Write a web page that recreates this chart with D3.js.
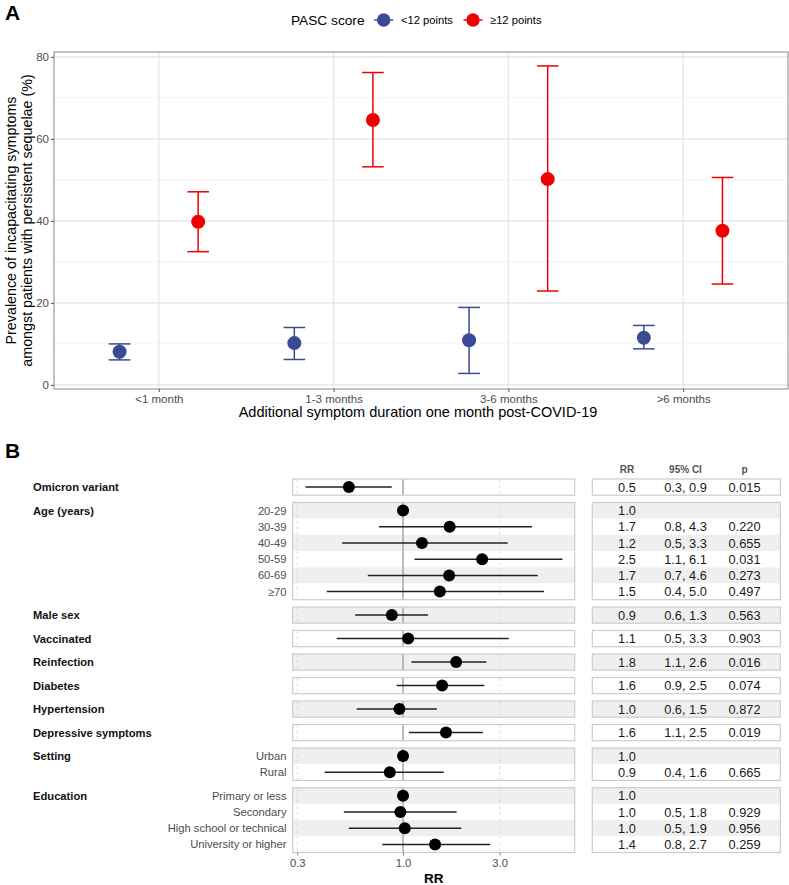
<!DOCTYPE html>
<html>
<head>
<meta charset="utf-8">
<script src="https://cdn.jsdelivr.net/npm/d3@7"></script>
<style>
  body { margin: 0; background: #fff; }
  svg { font-family: "Liberation Sans", Arial, Helvetica, sans-serif; }
</style>
</head>
<body>
<script>
// ---- panel A data ----
var durations = ["<1 month", "1-3 months", "3-6 months", ">6 months"];
var scoreGroups = ["<12 points", "≥12 points"];
var lowEst = [8.1, 10.2, 10.9, 11.5];
var lowLo  = [6.1, 6.2, 2.8, 8.8];
var lowHi  = [10.0, 14.0, 18.9, 14.5];
var highEst = [39.8, 64.6, 50.2, 37.6];
var highLo  = [32.5, 53.2, 22.9, 24.6];
var highHi  = [47.1, 76.2, 77.8, 50.6];
var yTicks = [0, 20, 40, 60, 80];

// ---- panel B data ----
var groupLabels = ["Omicron variant", "Age (years)", "Male sex", "Vaccinated", "Reinfection",
  "Diabetes", "Hypertension", "Depressive symptoms", "Setting", "Education"];
var rowGroup = [0, 1, 1, 1, 1, 1, 1, 2, 3, 4, 5, 6, 7, 8, 8, 9, 9, 9, 9];
var rowLabels = ["", "20-29", "30-39", "40-49", "50-59", "60-69", "≥70", "", "", "", "", "", "",
  "Urban", "Rural", "Primary or less", "Secondary", "High school or technical", "University or higher"];
var rrEst = [0.54, 1.0, 1.70, 1.24, 2.46, 1.69, 1.52, 0.88, 1.06, 1.83, 1.56, 0.96, 1.63, 1.0, 0.86, 1.0, 0.97, 1.02, 1.44];
var rrLo  = [0.33, null, 0.76, 0.50, 1.14, 0.67, 0.42, 0.58, 0.47, 1.10, 0.93, 0.59, 1.07, null, 0.41, null, 0.51, 0.54, 0.79];
var rrHi  = [0.88, null, 4.34, 3.29, 6.13, 4.63, 4.97, 1.33, 3.33, 2.58, 2.52, 1.47, 2.48, null, 1.59, null, 1.84, 1.94, 2.70];
var pValues = ["0.015", "", "0.220", "0.655", "0.031", "0.273", "0.497", "0.563", "0.903", "0.016",
  "0.074", "0.872", "0.019", "", "0.665", "", "0.929", "0.956", "0.259"];
var rrTicks = [0.3, 1.0, 3.0];

var colors = ["#3B4A94", "#EE0000"];

var svg = d3.select("body").append("svg").attr("width", 789).attr("height", 885);

// ================= Panel A =================
var A = { left: 54, right: 788, top: 52, bottom: 389 };
var x = d3.scalePoint().domain(durations).range([A.left, A.right]).padding(0.6);
var y = d3.scaleLinear().domain([-1, 81.2]).range([A.bottom, A.top]);
var dodge = 39.3;

svg.append("text").attr("x", 5).attr("y", 20).attr("font-size", 21).attr("font-weight", "bold").text("A");

var gA = svg.append("g");
// grid
gA.selectAll(".minor").data([10, 30, 50, 70]).enter().append("line")
  .attr("x1", A.left).attr("x2", A.right).attr("y1", y).attr("y2", y)
  .attr("stroke", "#F0F0F0").attr("stroke-width", 0.8);
gA.selectAll(".major").data(yTicks).enter().append("line")
  .attr("x1", A.left).attr("x2", A.right).attr("y1", y).attr("y2", y)
  .attr("stroke", "#E3E3E3").attr("stroke-width", 1.1);
gA.selectAll(".vgrid").data(durations).enter().append("line")
  .attr("x1", x).attr("x2", x).attr("y1", A.top).attr("y2", A.bottom)
  .attr("stroke", "#E3E3E3").attr("stroke-width", 1.1);
gA.append("rect").attr("x", A.left).attr("y", A.top)
  .attr("width", A.right - A.left).attr("height", A.bottom - A.top)
  .attr("fill", "none").attr("stroke", "#888").attr("stroke-width", 1);

// axes
var yAxis = gA.append("g").attr("transform", "translate(" + A.left + ",0)")
  .call(d3.axisLeft(y).tickValues(yTicks).tickSize(3).tickPadding(2));
var xAxis = gA.append("g").attr("transform", "translate(0," + A.bottom + ")")
  .call(d3.axisBottom(x).tickSize(3).tickPadding(3));
[yAxis, xAxis].forEach(function(ax) {
  ax.select(".domain").remove();
  ax.selectAll("line").attr("stroke", "#555");
  ax.selectAll("text").attr("fill", "#4D4D4D").attr("font-size", 11.5)
    .attr("font-family", "Liberation Sans, Arial, sans-serif");
});

// axis titles
gA.append("text").attr("transform", "translate(15.5," + ((A.top + A.bottom) / 2) + ") rotate(-90)")
  .attr("text-anchor", "middle").attr("font-size", 14.3).attr("fill", "#000")
  .text("Prevalence of incapacitating symptoms");
gA.append("text").attr("transform", "translate(32," + ((A.top + A.bottom) / 2) + ") rotate(-90)")
  .attr("text-anchor", "middle").attr("font-size", 14.3).attr("fill", "#000")
  .text("amongst patients with persistent sequelae (%)");
gA.append("text").attr("x", (A.left + A.right) / 2 - 3).attr("y", 417)
  .attr("text-anchor", "middle").attr("font-size", 14.5)
  .text("Additional symptom duration one month post-COVID-19");

// series
var series = [
  { name: scoreGroups[0], est: lowEst, lo: lowLo, hi: lowHi, off: -dodge, color: colors[0] },
  { name: scoreGroups[1], est: highEst, lo: highLo, hi: highHi, off: dodge, color: colors[1] }
];
series.forEach(function(s) {
  var pts = durations.map(function(d, i) {
    return { cx: x(d) + s.off, est: s.est[i], lo: s.lo[i], hi: s.hi[i] };
  });
  var g = gA.append("g");
  g.selectAll(".v").data(pts).enter().append("line")
    .attr("x1", function(d) { return d.cx; }).attr("x2", function(d) { return d.cx; })
    .attr("y1", function(d) { return y(d.lo); }).attr("y2", function(d) { return y(d.hi); })
    .attr("stroke", s.color).attr("stroke-width", 1.5);
  ["lo", "hi"].forEach(function(k) {
    g.selectAll(".cap" + k).data(pts).enter().append("line")
      .attr("x1", function(d) { return d.cx - 10.8; }).attr("x2", function(d) { return d.cx + 10.8; })
      .attr("y1", function(d) { return y(d[k]); }).attr("y2", function(d) { return y(d[k]); })
      .attr("stroke", s.color).attr("stroke-width", 1.5);
  });
  g.selectAll("circle").data(pts).enter().append("circle")
    .attr("cx", function(d) { return d.cx; }).attr("cy", function(d) { return y(d.est); })
    .attr("r", 7).attr("fill", s.color);
});

// legend
var leg = svg.append("g");
leg.append("text").attr("x", 291).attr("y", 24.5).attr("font-size", 13.7).text("PASC score");
var legItems = [{ cx: 383.7, tx: 401 }, { cx: 473, tx: 490 }];
legItems.forEach(function(it, i) {
  leg.append("line").attr("x1", it.cx - 9.5).attr("x2", it.cx + 9.5).attr("y1", 20).attr("y2", 20)
    .attr("stroke", colors[i]).attr("stroke-width", 1.5);
  leg.append("circle").attr("cx", it.cx).attr("cy", 20).attr("r", 6.7).attr("fill", colors[i]);
  leg.append("text").attr("x", it.tx).attr("y", 24).attr("font-size", 11.2).text(scoreGroups[i]);
});

// ================= Panel B =================
svg.append("text").attr("x", 5).attr("y", 458).attr("font-size", 21).attr("font-weight", "bold").text("B");

var B = { top: 479, rowH: 16.2, gap: 7.3, fl: 292.7, fr: 574.7, tl: 592.3, tr: 780.3 };
var rx = d3.scaleLog().domain([0.285, 7.05]).range([B.fl, B.fr]);
function rowTop(i) { return B.top + i * B.rowH + rowGroup[i] * B.gap; }
function rowMid(i) { return rowTop(i) + B.rowH / 2; }

var rows = rowGroup.map(function(g, i) {
  return { i: i, g: g, label: rowLabels[i], est: rrEst[i], lo: rrLo[i], hi: rrHi[i], p: pValues[i] };
});
var boxes = groupLabels.map(function(lab, g) {
  var idx = rows.filter(function(r) { return r.g === g; }).map(function(r) { return r.i; });
  return { label: lab, first: idx[0], n: idx.length };
});

var gB = svg.append("g");
[[B.fl, B.fr], [B.tl, B.tr]].forEach(function(ext) {
  gB.selectAll(null).data(rows).enter().append("rect")
    .attr("x", ext[0]).attr("width", ext[1] - ext[0])
    .attr("y", function(d) { return rowTop(d.i); }).attr("height", B.rowH)
    .attr("fill", function(d) { return d.i % 2 ? "#EFEFEF" : "#fff"; });
});

// reference lines inside each box
boxes.forEach(function(b) {
  var y0 = rowTop(b.first), y1 = y0 + b.n * B.rowH;
  [0.3, 3.0].forEach(function(v) {
    gB.append("line").attr("x1", rx(v)).attr("x2", rx(v)).attr("y1", y0).attr("y2", y1)
      .attr("stroke", "#D6D6D6").attr("stroke-width", 0.8).attr("stroke-dasharray", "3,3");
  });
  gB.append("line").attr("x1", rx(1)).attr("x2", rx(1)).attr("y1", y0).attr("y2", y1)
    .attr("stroke", "#9A9A9A").attr("stroke-width", 1.3);
});

// CI lines and points
gB.selectAll(".ci").data(rows.filter(function(d) { return d.lo != null; })).enter().append("line")
  .attr("x1", function(d) { return rx(d.lo); }).attr("x2", function(d) { return rx(d.hi); })
  .attr("y1", function(d) { return rowMid(d.i); }).attr("y2", function(d) { return rowMid(d.i); })
  .attr("stroke", "#222").attr("stroke-width", 1.5);
gB.selectAll(".pt").data(rows).enter().append("circle")
  .attr("cx", function(d) { return rx(d.est); }).attr("cy", function(d) { return rowMid(d.i); })
  .attr("r", 6).attr("fill", "#000");

// box outlines
[[B.fl, B.fr], [B.tl, B.tr]].forEach(function(ext) {
  gB.selectAll(null).data(boxes).enter().append("rect")
    .attr("x", ext[0]).attr("width", ext[1] - ext[0])
    .attr("y", function(d) { return rowTop(d.first); })
    .attr("height", function(d) { return d.n * B.rowH; })
    .attr("fill", "none").attr("stroke", "#CCCCCC").attr("stroke-width", 1.2);
});

// labels
gB.selectAll(".glab").data(boxes).enter().append("text")
  .attr("x", 33).attr("y", function(d) { return rowMid(d.first) + 4; })
  .attr("font-size", 11.2).attr("font-weight", "bold").attr("fill", "#111")
  .text(function(d) { return d.label; });
gB.selectAll(".rlab").data(rows.filter(function(d) { return d.label; })).enter().append("text")
  .attr("x", 286.5).attr("y", function(d) { return rowMid(d.i) + 4; })
  .attr("text-anchor", "end").attr("font-size", 11.2).attr("fill", "#4D4D4D")
  .text(function(d) { return d.label; });

// table
var cols = { rr: 627, ci: 685.5, p: 744.5 };
[["RR", cols.rr], ["95% CI", cols.ci], ["p", cols.p]].forEach(function(h) {
  gB.append("text").attr("x", h[1]).attr("y", 473).attr("text-anchor", "middle")
    .attr("font-size", 10).attr("font-weight", "bold").attr("fill", "#555").text(h[0]);
});
var fmt = function(v) { return v.toFixed(1); };
gB.selectAll(".trr").data(rows).enter().append("text")
  .attr("x", cols.rr).attr("y", function(d) { return rowMid(d.i) + 4.5; })
  .attr("text-anchor", "middle").attr("font-size", 12.8).attr("fill", "#1a1a1a")
  .text(function(d) { return fmt(d.est); });
gB.selectAll(".tci").data(rows.filter(function(d) { return d.lo != null; })).enter().append("text")
  .attr("x", cols.ci).attr("y", function(d) { return rowMid(d.i) + 4.5; })
  .attr("text-anchor", "middle").attr("font-size", 12.8).attr("fill", "#1a1a1a")
  .text(function(d) { return fmt(d.lo) + ", " + fmt(d.hi); });
gB.selectAll(".tp").data(rows.filter(function(d) { return d.p; })).enter().append("text")
  .attr("x", cols.p).attr("y", function(d) { return rowMid(d.i) + 4.5; })
  .attr("text-anchor", "middle").attr("font-size", 12.8).attr("fill", "#1a1a1a")
  .text(function(d) { return d.p; });

// RR axis
var lastBottom = rowTop(rows.length - 1) + B.rowH;
var rAxis = gB.append("g").attr("transform", "translate(0," + lastBottom + ")")
  .call(d3.axisBottom(rx).tickValues(rrTicks).tickFormat(d3.format(".1f")).tickSize(3).tickPadding(4));
rAxis.select(".domain").remove();
rAxis.selectAll("line").attr("stroke", "#888");
rAxis.selectAll("text").attr("fill", "#4D4D4D").attr("font-size", 11.2)
  .attr("font-family", "Liberation Sans, Arial, sans-serif");
gB.append("text").attr("x", (B.fl + B.fr) / 2).attr("y", 883).attr("text-anchor", "middle")
  .attr("font-size", 13.5).attr("font-weight", "bold").text("RR");
</script>
</body>
</html>
